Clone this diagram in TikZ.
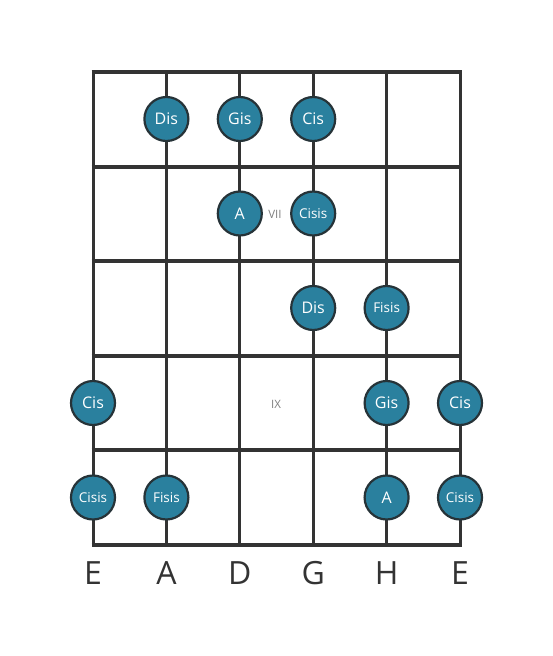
\documentclass[tikz,border=0pt]{standalone}
\usepackage{fontspec}
\setmainfont{Open Sans}
\definecolor{notefill}{HTML}{2A809E}
\definecolor{noteline}{HTML}{263338}
\definecolor{fretline}{HTML}{333333}
\tikzset{
  note/.style={circle, draw=noteline, line width=2.2pt, fill=notefill,
    minimum size=44pt, inner sep=0pt, text=white, font=\fontsize{16}{16}\selectfont},
  smallnote/.style={note, font=\fontsize{13.5}{13.5}\selectfont},
  fretmark/.style={text=gray, font=\fontsize{11.5}{11.5}\selectfont},
  stringname/.style={text=fretline, font=\fontsize{32}{32}\selectfont}
}
\begin{document}
\begin{tikzpicture}[x=1pt, y=-1pt]
\useasboundingbox (0,0) rectangle (553,656);

% Strings
\foreach \s in {93,166.4,239.8,313.2,386.6,460}
  \draw[fretline, line width=3pt] (\s,72) -- (\s,545);

% Frets, nut on top
\draw[fretline, line width=4.5pt] (91.5,72) -- (461.5,72);
\foreach \f in {166.6,261.2,355.8,450.4,545}
  \draw[fretline, line width=4pt] (91.5,\f) -- (461.5,\f);

% Position marks
\node[fretmark] (vii) at (275,214) {VII};
\node[fretmark] (ix) at (276,404) {IX};

% Notes
\node[note] (dis1) at (166.4,119) {Dis};
\node[note] (gis1) at (239.8,119) {Gis};
\node[note] (cis1) at (313.2,119) {Cis};

\node[note] (a2) at (239.8,213.5) {A};
\node[smallnote] (cisis2) at (313.2,213.5) {Cisis};

\node[note] (dis3) at (313.2,308) {Dis};
\node[smallnote] (fisis3) at (386.6,308) {Fisis};

\node[note] (cis4a) at (93,403) {Cis};
\node[note] (gis4) at (386.6,403) {Gis};
\node[note] (cis4b) at (460,403) {Cis};

\node[smallnote] (cisis5a) at (93,497.5) {Cisis};
\node[smallnote] (fisis5) at (166.4,497.5) {Fisis};
\node[note] (a5) at (386.6,497.5) {A};
\node[smallnote] (cisis5b) at (460,497.5) {Cisis};

% String names
\foreach \s/\n in {93/E,166.4/A,239.8/D,313.2/G,386.6/H,460/E}
  \node[stringname] (name\n) at (\s,573) {\n};
\end{tikzpicture}
\end{document}
